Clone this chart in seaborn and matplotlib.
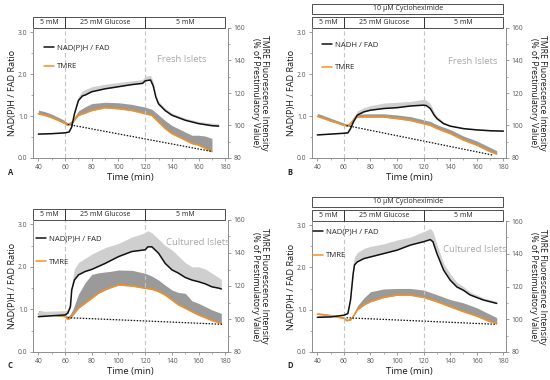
"""Four-panel NAD(P)H/FAD and TMRE time course figure."""

import matplotlib
matplotlib.use("Agg")
import matplotlib.pyplot as plt
import matplotlib.transforms as mtransforms
from matplotlib.patches import Rectangle
from matplotlib.ticker import FormatStrFormatter, MultipleLocator
import seaborn as sns

# ---- data ----
phase_bounds = [36, 60, 120, 180]
phase_labels = ["5 mM", "25 mM Glucose", "5 mM"]
drug_label = "10 µM Cycloheximide"

# panel A - fresh islets
a_nad_t = [40, 50, 60, 63, 65, 67, 70, 73, 75, 80, 90, 100, 110, 118, 120, 124, 126, 128, 130, 135, 140, 150, 160, 170, 175]
a_nad = [0.57, 0.58, 0.60, 0.62, 0.74, 1.05, 1.37, 1.48, 1.50, 1.58, 1.65, 1.70, 1.75, 1.78, 1.84, 1.86, 1.72, 1.45, 1.29, 1.13, 1.02, 0.90, 0.82, 0.77, 0.76]
a_nad_hi = [0.59, 0.60, 0.62, 0.64, 0.78, 1.12, 1.47, 1.60, 1.63, 1.70, 1.76, 1.80, 1.84, 1.87, 1.95, 1.97, 1.82, 1.52, 1.35, 1.18, 1.07, 0.95, 0.87, 0.83, 0.82]
a_tmre_t = [40, 45, 50, 55, 60, 62, 65, 70, 75, 80, 90, 100, 110, 120, 125, 130, 135, 140, 145, 150, 155, 160, 165, 170]
a_tmre = [107.2, 106.2, 104.8, 103.1, 101.1, 100.1, 101.1, 106.2, 107.6, 109.2, 110.9, 110.3, 109.2, 107.2, 106.2, 102.1, 98.1, 95.0, 93.0, 91.0, 88.9, 87.9, 85.9, 83.9]
a_tmre_hi = [109.5, 108.5, 107.0, 105.0, 103.0, 101.5, 103.0, 109.0, 111.5, 113.5, 114.3, 114.0, 113.0, 111.3, 110.0, 106.5, 103.0, 100.0, 98.0, 96.0, 94.0, 94.0, 93.5, 92.0]
a_base_t = [62, 170]
a_base = [100.7, 84.0]

# panel B - fresh islets + cycloheximide
b_nad_t = [40, 50, 60, 63, 65, 67, 70, 75, 80, 90, 100, 110, 120, 122, 125, 128, 130, 135, 140, 150, 160, 170, 180]
b_nad = [0.55, 0.57, 0.59, 0.60, 0.70, 0.85, 1.02, 1.10, 1.14, 1.18, 1.20, 1.24, 1.26, 1.25, 1.18, 1.02, 0.94, 0.82, 0.76, 0.70, 0.67, 0.65, 0.64]
b_nad_hi = [0.57, 0.59, 0.61, 0.63, 0.75, 0.93, 1.12, 1.20, 1.25, 1.31, 1.33, 1.35, 1.40, 1.38, 1.30, 1.10, 1.00, 0.86, 0.79, 0.73, 0.70, 0.68, 0.67]
b_tmre_t = [40, 45, 50, 55, 60, 63, 65, 68, 70, 80, 90, 100, 110, 120, 125, 130, 140, 150, 160, 170, 175]
b_tmre = [105.6, 104.2, 102.7, 101.5, 100.1, 99.5, 101.1, 104.2, 105.2, 105.2, 105.2, 104.2, 103.1, 101.1, 100.1, 98.1, 95.0, 91.0, 87.9, 83.9, 82.4]
b_tmre_hi = [107.5, 106.0, 104.5, 103.0, 101.5, 100.8, 102.5, 106.0, 107.0, 107.2, 107.2, 106.5, 105.5, 103.5, 102.5, 100.5, 97.5, 93.5, 90.5, 86.5, 84.5]
b_base_t = [62, 172]
b_base = [100.0, 81.8]

# panel C - cultured islets
c_nad_t = [40, 50, 60, 62, 64, 65, 67, 70, 75, 80, 90, 100, 110, 120, 122, 125, 130, 135, 140, 145, 150, 155, 160, 165, 170, 175, 177]
c_nad = [0.83, 0.85, 0.87, 0.91, 1.06, 1.46, 1.69, 1.81, 1.89, 1.94, 2.08, 2.24, 2.36, 2.40, 2.47, 2.47, 2.32, 2.08, 1.93, 1.85, 1.75, 1.69, 1.65, 1.60, 1.53, 1.50, 1.48]
c_nad_hi = [0.95, 0.96, 0.97, 1.00, 1.20, 1.60, 1.95, 2.10, 2.20, 2.30, 2.45, 2.55, 2.70, 2.80, 2.85, 2.80, 2.65, 2.50, 2.40, 2.25, 2.10, 2.00, 2.00, 1.95, 1.85, 1.75, 1.70]
c_tmre_t = [40, 50, 60, 62, 64, 66, 70, 75, 80, 85, 90, 95, 100, 110, 120, 125, 130, 135, 140, 145, 150, 155, 160, 165, 170, 177]
c_tmre = [103.0, 102.4, 101.4, 99.8, 100.4, 102.4, 106.5, 109.5, 112.5, 115.6, 117.6, 119.2, 120.6, 120.0, 118.6, 118.0, 116.6, 114.5, 111.5, 108.5, 106.5, 104.4, 102.4, 100.8, 99.0, 97.4]
c_tmre_hi = [105.0, 104.0, 103.0, 101.5, 103.0, 106.0, 115.0, 122.0, 127.0, 128.0, 128.5, 129.0, 129.7, 129.5, 127.7, 126.0, 123.6, 120.5, 117.6, 116.0, 115.6, 111.0, 109.5, 107.5, 105.5, 103.4]
c_base_t = [62, 178]
c_base = [100.8, 96.8]

# panel D - cultured islets + cycloheximide
d_nad_t = [40, 50, 60, 63, 65, 67, 68, 70, 75, 80, 90, 100, 110, 120, 125, 127, 130, 135, 140, 145, 150, 155, 160, 165, 170, 175]
d_nad = [0.82, 0.83, 0.87, 0.91, 1.23, 1.86, 2.06, 2.13, 2.21, 2.25, 2.33, 2.41, 2.53, 2.61, 2.66, 2.61, 2.33, 1.94, 1.70, 1.54, 1.46, 1.35, 1.29, 1.23, 1.19, 1.15]
d_nad_hi = [0.86, 0.87, 0.90, 0.96, 1.35, 2.10, 2.25, 2.35, 2.45, 2.50, 2.56, 2.65, 2.72, 2.85, 2.92, 2.85, 2.55, 2.10, 1.85, 1.65, 1.55, 1.42, 1.35, 1.28, 1.24, 1.20]
d_tmre_t = [40, 50, 60, 62, 65, 67, 70, 75, 80, 90, 100, 110, 120, 130, 140, 150, 160, 170, 175]
d_tmre = [103.1, 102.1, 100.5, 99.1, 99.5, 101.5, 105.6, 108.6, 110.7, 113.3, 114.7, 114.7, 113.3, 110.7, 107.6, 104.6, 101.9, 98.5, 97.5]
d_tmre_hi = [104.0, 103.0, 101.5, 100.0, 100.5, 103.0, 108.0, 113.0, 116.8, 118.5, 118.8, 118.8, 117.8, 115.0, 112.0, 110.0, 107.0, 103.0, 101.0]
d_base_t = [62, 175]
d_base = [100.9, 96.9]

BLACK = "#111111"
ORANGE = "#f7901e"
LIGHT = "#cfcfcf"
DARK = "#9a9a9a"
GUIDE = "#c4c4c4"
SPINE = "#8c8c8c"

sns.set_theme(style="ticks")
plt.rcParams["font.family"] = ["Open Sans", "DejaVu Sans"]
plt.rcParams["axes.linewidth"] = 0.7

panels = [
    dict(letter="A", nad_label="NAD(P)H / FAD", tag="Fresh Islets", drug=False,
         nad=(a_nad_t, a_nad, a_nad_hi), tmre=(a_tmre_t, a_tmre, a_tmre_hi), base=(a_base_t, a_base),
         rect_px=(33, 28, 228, 158), legend=(0.055, 0.875, 1.45), tag_xy=(129, 2.34)),
    dict(letter="B", nad_label="NADH / FAD", tag="Fresh Islets", drug=True,
         nad=(b_nad_t, b_nad, b_nad_hi), tmre=(b_tmre_t, b_tmre, b_tmre_hi), base=(b_base_t, b_base),
         rect_px=(312, 28, 506, 158), legend=(0.05, 0.895, 1.9), tag_xy=(138, 2.30)),
    dict(letter="C", nad_label="NAD(P)H / FAD", tag="Cultured Islets", drug=False,
         nad=(c_nad_t, c_nad, c_nad_hi), tmre=(c_tmre_t, c_tmre, c_tmre_hi), base=(c_base_t, c_base),
         rect_px=(33, 220, 228, 352), legend=(0.015, 0.885, 2.0), tag_xy=(135.5, 2.58)),
    dict(letter="D", nad_label="NAD(P)H / FAD", tag="Cultured Islets", drug=True,
         nad=(d_nad_t, d_nad, d_nad_hi), tmre=(d_tmre_t, d_tmre, d_tmre_hi), base=(d_base_t, d_base),
         rect_px=(312, 221, 506, 352), legend=(0.005, 0.945, 2.1), tag_xy=(134.5, 2.43)),
]

W, H = 550, 380
fig = plt.figure(figsize=(5.5, 3.8), dpi=100)

for p in panels:
    x0, y0, x1, y1 = p["rect_px"]
    ax = fig.add_axes([x0 / W, 1 - y1 / H, (x1 - x0) / W, (y1 - y0) / H])
    ax2 = ax.twinx()
    ax.set_zorder(ax2.get_zorder() + 1)
    ax.patch.set_visible(False)

    t, v, hi = p["nad"]
    ax.fill_between(t, v, hi, color=LIGHT, lw=0, zorder=1)
    sns.lineplot(x=t, y=v, ax=ax, color=BLACK, lw=1.1, zorder=3, label=p["nad_label"])

    t2, v2, hi2 = p["tmre"]
    ax2.fill_between(t2, v2, hi2, color=DARK, lw=0, zorder=1)
    sns.lineplot(x=t2, y=v2, ax=ax2, color=ORANGE, lw=1.1, zorder=2, label="TMRE")
    bt, bv = p["base"]
    ax2.plot(bt, bv, color=BLACK, ls=(0, (1.2, 1.2)), lw=0.9, zorder=3)

    for edge in phase_bounds[1:-1]:
        ax.axvline(edge, color=GUIDE, ls=(0, (4, 2.5)), lw=0.8, zorder=0)

    ax.set_xlim(36, 182)
    ax.set_ylim(0, 3.1)
    ax2.set_ylim(80, 160)
    ax.xaxis.set_major_locator(MultipleLocator(20))
    ax.xaxis.set_minor_locator(MultipleLocator(10))
    ax.yaxis.set_major_locator(MultipleLocator(1.0))
    ax.yaxis.set_minor_locator(MultipleLocator(0.5))
    ax2.yaxis.set_major_locator(MultipleLocator(20))
    ax2.yaxis.set_minor_locator(MultipleLocator(10))
    ax.yaxis.set_major_formatter(FormatStrFormatter("%.1f"))

    for a in (ax, ax2):
        a.spines["top"].set_visible(False)
        for s in a.spines.values():
            s.set_color(SPINE)
        a.tick_params(which="major", length=2.5, width=0.6, labelsize=4.9, pad=1.5,
                      colors=SPINE, labelcolor="#555555")
        a.tick_params(which="minor", length=1.5, width=0.5, colors=SPINE)
    ax.spines["right"].set_visible(False)
    ax2.spines["left"].set_visible(False)
    ax2.spines["bottom"].set_visible(False)

    ax.set_xlabel("Time (min)", fontsize=6.8, labelpad=2, color="#1a1a1a")
    ax.set_ylabel("NAD(P)H / FAD Ratio", fontsize=6.6, labelpad=1, color="#1a1a1a")
    ax2.set_ylabel("TMRE Fluorescence Intensity\n(% of Prestimulatory Value)", fontsize=6.2,
                   rotation=270, va="bottom", labelpad=4, linespacing=1.05, color="#1a1a1a")

    # legend
    lx, ly, spacing = p["legend"]
    h1, l1 = ax.get_legend_handles_labels()
    h2, l2 = ax2.get_legend_handles_labels()
    if ax2.get_legend():
        ax2.get_legend().remove()
    ax.legend(h1 + h2, l1 + l2, loc="upper left", bbox_to_anchor=(lx, ly), frameon=False,
              fontsize=5.6, handlelength=1.3, handletextpad=0.4, labelspacing=spacing,
              borderpad=0, borderaxespad=0)

    ax.text(*p["tag_xy"], p["tag"], color="#a8a8a8", fontsize=6.8, va="center", ha="left")

    # stimulus header boxes
    trans = mtransforms.blended_transform_factory(ax.transData, ax.transAxes)
    yb, hh = 1.0, 0.085
    for lo, hi_, lab in zip(phase_bounds[:-1], phase_bounds[1:], phase_labels):
        ax.add_patch(Rectangle((lo, yb), hi_ - lo, hh, transform=trans, fill=False,
                               ec="#333333", lw=0.6, clip_on=False))
        ax.text((lo + hi_) / 2, yb + hh / 2, lab, transform=trans, fontsize=5,
                ha="center", va="center")
    if p["drug"]:
        yb, hh = 1.11, 0.075
        ax.add_patch(Rectangle((phase_bounds[0], yb), phase_bounds[-1] - phase_bounds[0], hh,
                               transform=trans, fill=False, ec="#333333", lw=0.6, clip_on=False))
        ax.text((phase_bounds[0] + phase_bounds[-1]) / 2, yb + hh / 2, drug_label,
                transform=trans, fontsize=5, ha="center", va="center")

    fig.text((x0 - 25) / W, 1 - (y1 + 14) / H, p["letter"], fontsize=5.5, fontweight="bold",
             ha="left", va="center")

fig.savefig("out.png", dpi=100)
